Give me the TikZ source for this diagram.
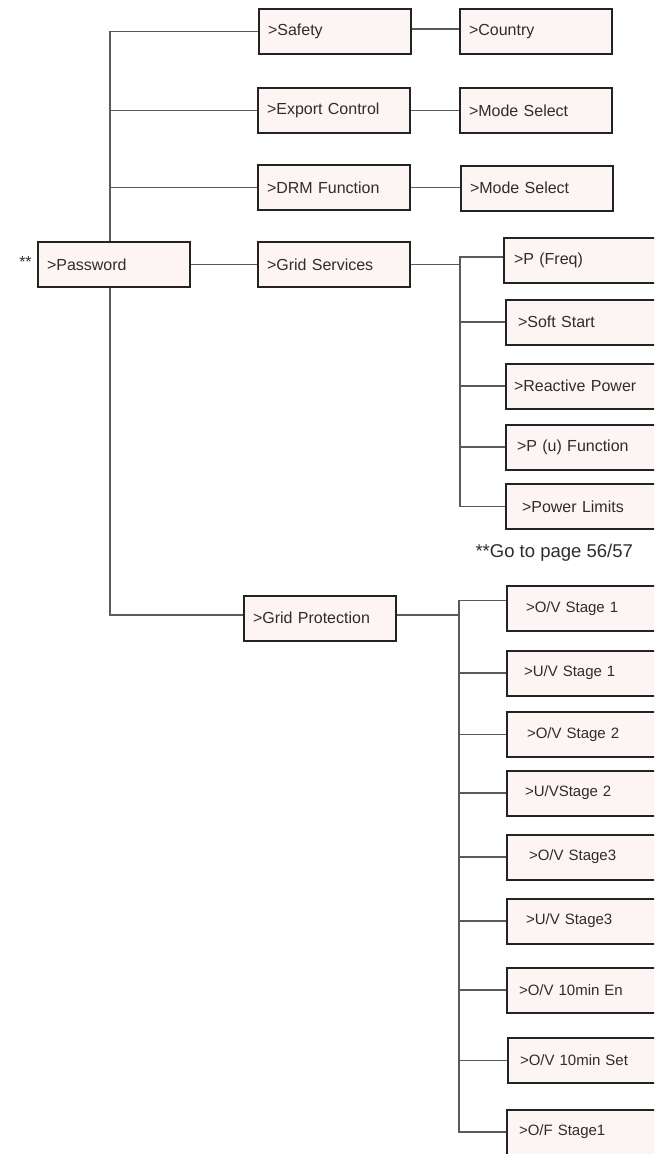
\documentclass[tikz,border=0pt]{standalone}
\usepackage{fontspec}
\setmainfont{Liberation Sans}
\usepackage{tikz}
\usetikzlibrary{positioning,calc}
\definecolor{boxfill}{RGB}{253,245,243}
\definecolor{boxline}{RGB}{35,35,35}
\definecolor{linegray}{RGB}{90,90,90}
\definecolor{txtgray}{RGB}{45,45,45}

\begin{document}
\begin{tikzpicture}[x=1pt, y=-1pt,
    menubox/.style={draw=boxline, line width=2pt, fill=boxfill, anchor=west,
        minimum height=45pt, inner xsep=9pt, text width=134pt, align=left,
        text=txtgray, font=\fontsize{16}{19}\selectfont},
    subbox/.style={menubox, inner xsep=11pt, text width=150pt},
    protbox/.style={menubox, inner xsep=19pt, text width=132pt,
        font=\fontsize{15}{18}\selectfont},
    link/.style={draw=linegray, line width=1.1pt}]
        \useasboundingbox (0,0) rectangle (654,1154);
        \clip (0,0) rectangle (654,1154);
        % x positions of the vertical bars
        \coordinate (tk) at (110,0);
        \coordinate (gsx) at (460,0);
        \coordinate (gpx) at (459,0);
        % first level
        \node[menubox] (password) at (37,264.5) {>Password};
        \node[text=txtgray, font=\fontsize{16}{19}\selectfont] (stars) at (25.5,262) {**};
        % second level
        \node[menubox] (safety) at (258,31.5) {>Safety};
        \node[menubox] (export) at (257,110.5) {>Export Control};
        \node[menubox] (drm) at (257,187.5) {>DRM Function};
        \node[menubox] (gridserv) at (257,264.5) {>Grid Services};
        \node[menubox] (gridprot) at (243,618) {>Grid Protection};
        % third level
        \node[menubox] (country) at (459,31.5) {>Country};
        \node[menubox] (modesel1) at (459,110.5) {>Mode Select};
        \node[menubox] (modesel2) at (460,188) {>Mode Select};
        \node[subbox, inner xsep=10pt] (pfreq) at (503,260) {>P (Freq)};
        \node[subbox, inner xsep=12pt] (softstart) at (505,322) {>Soft Start};
        \node[subbox, inner xsep=8pt] (reactive) at (505,386) {>Reactive Power};
        \node[subbox] (pufunc) at (505,447) {>P (u) Function};
        \node[subbox, inner xsep=16pt] (powlim) at (505,506.5) {>Power Limits};
        \node[text=txtgray, anchor=west, font=\fontsize{18.5}{22}\selectfont] (gotopage) at (472,553) {**Go to page 56/57};
        \node[protbox] (ovs1) at (506,608.5) {>O/V Stage 1};
        \node[protbox, inner xsep=17pt] (uvs1) at (506,673) {>U/V Stage 1};
        \node[protbox, inner xsep=20pt] (ovs2) at (506,734.5) {>O/V Stage 2};
        \node[protbox, inner xsep=18pt] (uvs2) at (506,793) {>U/VStage 2};
        \node[protbox, inner xsep=22pt] (ovs3) at (506,857) {>O/V Stage3};
        \node[protbox] (uvs3) at (506,921) {>U/V Stage3};
        \node[protbox, inner xsep=12pt] (ov10en) at (506,990) {>O/V 10min En};
        \node[protbox, inner xsep=12pt] (ov10set) at (507,1060.5) {>O/V 10min Set};
        \node[protbox, inner xsep=12pt] (ofs1) at (506,1132) {>O/F Stage1};
        % connectors
        \draw[link] (password.north -| tk) |- (safety.west);
        \foreach \n in {export,drm}
            \draw[link] (tk |- \n.west) -- (\n.west);
        \draw[link] (password.east) -- (gridserv.west);
        \draw[link] (password.south -| tk) |- ([yshift=3pt]gridprot.west);
        \draw[link] ([yshift=2.5pt]safety.east) -- ([yshift=2.5pt]safety.east -| country.west);
        \draw[link] (export.east) -- (modesel1.west);
        \draw[link] (drm.east) -- (drm.east -| modesel2.west);
        % grid services branch
        \draw[link] (gridserv.east) -- (gridserv.east -| gsx);
        \draw[link] ([yshift=3pt]pfreq.west) -| (gsx |- powlim.west) -- (powlim.west);
        \foreach \n in {softstart,reactive,pufunc}
            \draw[link] (gsx |- \n.west) -- (\n.west);
        % grid protection branch
        \draw[link] ([yshift=3pt]gridprot.east) -- ([yshift=3pt]gridprot.east -| gpx);
        \draw[link] ([yshift=8pt]ovs1.west) -| (gpx |- ofs1.west) -- (ofs1.west);
        \foreach \n in {uvs1,ovs2,uvs2,ovs3,uvs3,ov10en,ov10set}
            \draw[link] (gpx |- \n.west) -- (\n.west);
    \end{tikzpicture}
\end{document}
